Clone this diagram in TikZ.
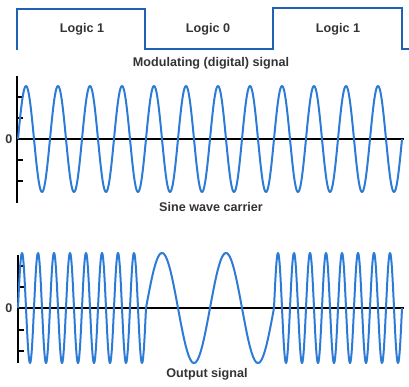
\documentclass[tikz,border=0pt]{standalone}
\usepackage{fontspec}
\setmainfont{Liberation Sans}
\definecolor{SigBlue}{HTML}{2D7BD6}
\definecolor{BitBlue}{HTML}{1F62B5}
\definecolor{TxtGray}{HTML}{333333}

\begin{document}
\begin{tikzpicture}[x=1pt,y=-1pt,
    lbl/.style={font=\bfseries\fontsize{12.6}{14}\selectfont,text=TxtGray,inner sep=0pt},
    axis/.style={line width=1.2pt,black},
    wave/.style={line width=2pt,SigBlue,line join=round}]
  \useasboundingbox (0,0) rectangle (409,386);
  % modulating signal
  \draw[line width=2.5pt,BitBlue] (17,50) -- (17,9) -- (145,9) -- (145,49)
    -- (273,49) -- (273,8) -- (402,8) -- (402,49) -- (409,49);
  \node[lbl] (bitA) at (82,29) {Logic 1};
  \node[lbl] (bitB) at (208,29) {Logic 0};
  \node[lbl] (bitC) at (338,29) {Logic 1};
  \node[lbl] (modtitle) at (211,63) {Modulating (digital) signal};
  % carrier
  \draw[axis] (17,76) -- (17,203);
  \draw[axis] (17,139) -- (404,139);
  \foreach \ty in {97,118,160,181}
    \draw[axis] (17,\ty) -- (23,\ty);
  \node[lbl] (zeroA) at (9,139) {0};
  \draw[wave] plot[domain=18:402,samples=500] (\x,{139-53*sin(11.25*(\x-18))});
  \node[lbl] (cartitle) at (211,207) {Sine wave carrier};
  % output signal
  \draw[axis] (18,255) -- (18,363);
  \draw[axis] (18,308) -- (404,308);
  \foreach \ty in {266,287,330,351}
    \draw[axis] (18,\ty) -- (24,\ty);
  \node[lbl] (zeroB) at (9,308) {0};
  \draw[wave] plot[domain=18:146,samples=400] (\x,{308-55*sin(22.5*(\x-18))})
    -- plot[domain=146:274,samples=200] (\x,{308-55*sin(5.625*(\x-146))})
    -- plot[domain=274:402,samples=400] (\x,{308-55*sin(22.5*(\x-274))});
  \node[lbl] (outtitle) at (207,374) {Output signal};
\end{tikzpicture}
\end{document}
